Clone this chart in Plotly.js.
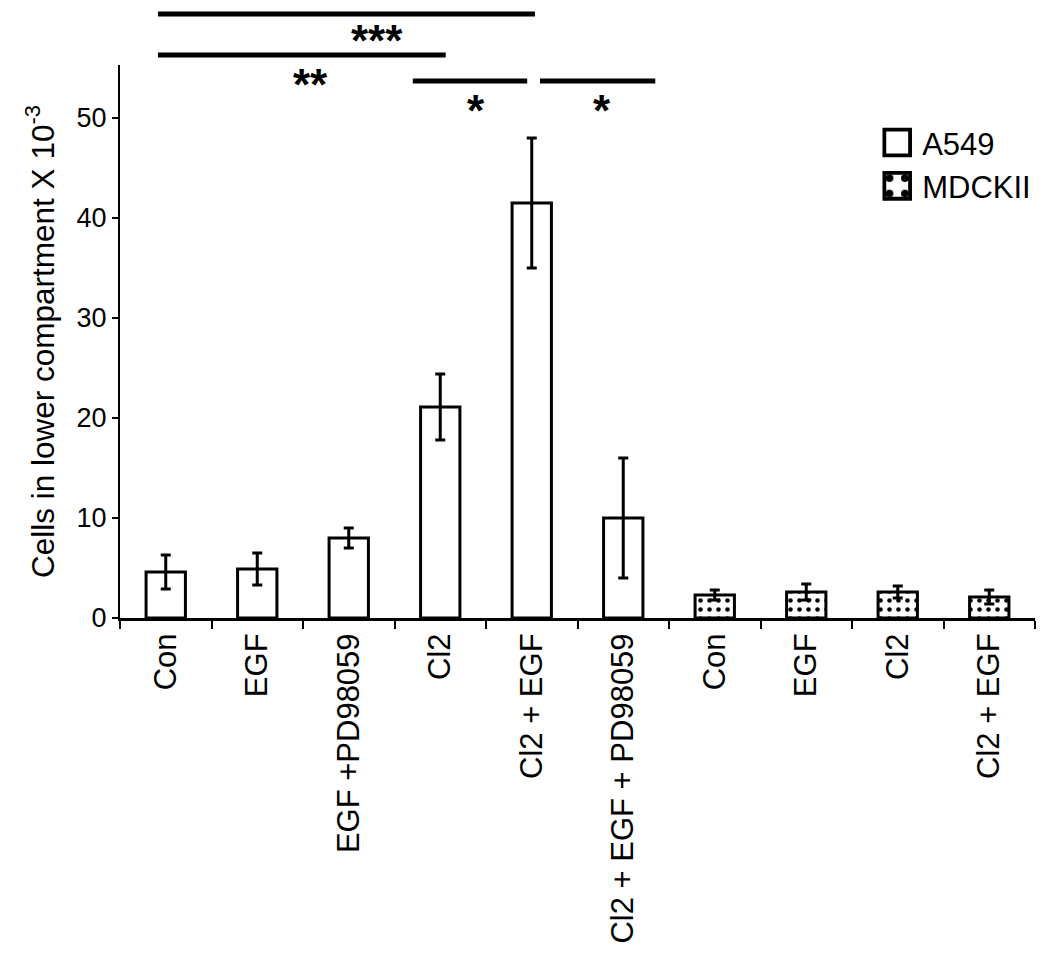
<!DOCTYPE html>
<html><head><meta charset="utf-8">
<script src="https://cdn.plot.ly/plotly-3.0.1.min.js"></script>
<style>html,body{margin:0;padding:0;background:#fff}</style>
</head><body>
<div id="chart" style="width:1050px;height:965px"></div>
<script>
const categories = ['Con','EGF','EGF +PD98059','Cl2','Cl2 + EGF','Cl2 + EGF + PD98059','Con','EGF','Cl2','Cl2 + EGF'];
const a549Values = [4.6, 4.9, 8.0, 21.1, 41.5, 10.0];
const a549Errors = [1.7, 1.6, 1.0, 3.3, 6.5, 6.0];
const mdckValues = [2.3, 2.6, 2.6, 2.1];
const mdckErrors = [0.5, 0.8, 0.6, 0.7];
const yTicks = [0, 10, 20, 30, 40, 50];

const idx = categories.map((_, i) => i);
const a549X = idx.slice(0, a549Values.length);
const mdckX = idx.slice(a549Values.length);

const font = 'Liberation Sans, Arial, sans-serif';

const traces = [
  {type:'bar', name:'A549', x:a549X, y:a549Values,
   error_y:{type:'data', array:a549Errors, visible:true, color:'#000', thickness:3, width:5},
   marker:{color:'#fff', line:{color:'#000', width:3}}, width:0.43},
  {type:'bar', name:'MDCKII', x:mdckX, y:mdckValues,
   error_y:{type:'data', array:mdckErrors, visible:true, color:'#000', thickness:3, width:5},
   marker:{color:'#fff', line:{color:'#000', width:3},
     pattern:{shape:'.', fgcolor:'#000', bgcolor:'#fff', size:9, solidity:0.2}}, width:0.43}
];

const lw = 5;
const shapes = [
  {type:'line', xref:'x', yref:'paper', x0:-0.085, x1:4.035, y0:1.092, y1:1.092, line:{color:'#000', width:lw}},
  {type:'line', xref:'x', yref:'paper', x0:-0.085, x1:3.06, y0:1.018, y1:1.018, line:{color:'#000', width:lw}},
  {type:'line', xref:'x', yref:'paper', x0:2.70, x1:3.95, y0:0.971, y1:0.971, line:{color:'#000', width:lw}},
  {type:'line', xref:'x', yref:'paper', x0:4.09, x1:5.35, y0:0.971, y1:0.971, line:{color:'#000', width:lw}}
];
const starFont = {family:font, size:44, color:'#000'};
const annotations = [
  {x:2.31, y:1.093, xref:'x', yref:'paper', text:'<b>***</b>', showarrow:false, font:starFont},
  {x:1.58, y:1.012, xref:'x', yref:'paper', text:'<b>**</b>', showarrow:false, font:starFont},
  {x:3.39, y:0.966, xref:'x', yref:'paper', text:'<b>*</b>', showarrow:false, font:starFont},
  {x:4.77, y:0.966, xref:'x', yref:'paper', text:'<b>*</b>', showarrow:false, font:starFont}
];

const layout = {
  width:1050, height:965,
  margin:{l:120, r:15, t:65, b:347},
  paper_bgcolor:'#fff', plot_bgcolor:'#fff',
  font:{family:font, color:'#000'},
  showlegend:true,
  legend:{x:0.833, y:0.908, xanchor:'left', yanchor:'top', font:{family:font, size:31, color:'#000'},
    bgcolor:'rgba(0,0,0,0)', tracegroupgap:0, itemwidth:30},
  xaxis:{range:[-0.5, 9.5], tickmode:'array', tickvals:idx, ticktext:categories,
    tickangle:-90, ticks:'', showgrid:false, zeroline:false,
    showline:true, linecolor:'#000', linewidth:3,
    tickfont:{family:font, size:31, color:'#000'},
    minor:{tick0:0.5, dtick:1, ticks:'outside', ticklen:8, tickwidth:2, tickcolor:'#000', showgrid:false}},
  yaxis:{range:[0, 55.3], tickmode:'array', tickvals:yTicks, ticks:'outside', ticklen:6, tickwidth:2,
    tickcolor:'#000', showgrid:false, zeroline:false, showline:true, linecolor:'#000', linewidth:2,
    tickfont:{family:font, size:27, color:'#000'},
    title:{text:'Cells in lower compartment X 10<sup>-3</sup>', font:{family:font, size:31.5, color:'#000'}, standoff:13}},
  shapes:shapes, annotations:annotations
};

Plotly.newPlot('chart', traces, layout, {displayModeBar:false, staticPlot:true}).then(() => {
  document.querySelectorAll('#chart .legendpoints path').forEach(p => {
    const t = p.getAttribute('transform') || '';
    p.setAttribute('transform', t + ' translate(-5,0) scale(2.15)');
    p.style.strokeWidth = '1.8px';
  });
});
</script>
</body></html>
